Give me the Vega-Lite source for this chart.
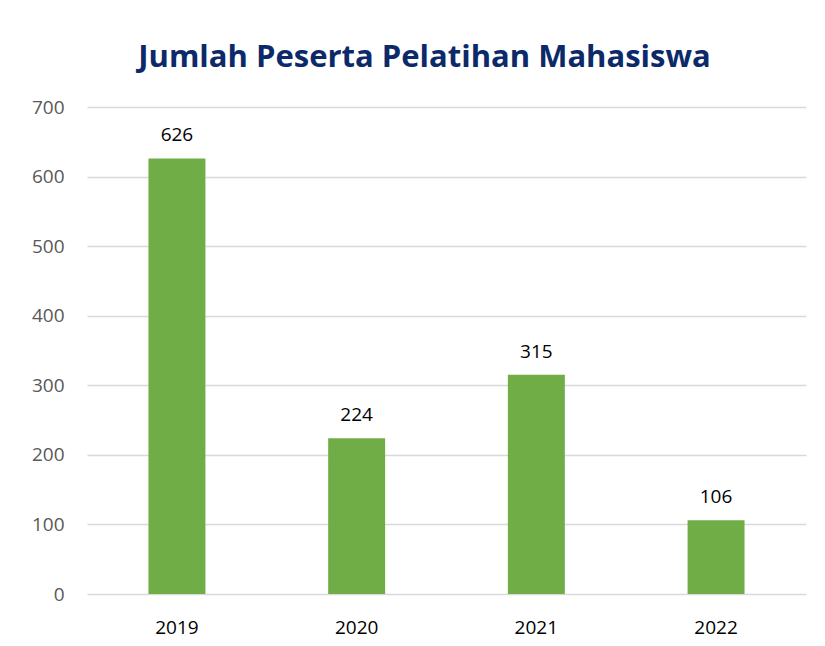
{
  "$schema": "https://vega.github.io/schema/vega-lite/v6.json",
  "width": 719,
  "height": 487,
  "autosize": {"type": "none"},
  "padding": {"left": 87, "top": 107, "right": 19, "bottom": 52},
  "background": "white",
  "title": {
    "text": "Jumlah Peserta Pelatihan Mahasiswa",
    "font": "Open Sans",
    "fontSize": 31,
    "fontWeight": "bold",
    "color": "#0C2A6A",
    "anchor": "middle",
    "dx": -22,
    "offset": 24
  },
  "data": {
    "values": [
      {"tahun": "2019", "jumlah": 626},
      {"tahun": "2020", "jumlah": 224},
      {"tahun": "2021", "jumlah": 315},
      {"tahun": "2022", "jumlah": 106}
    ]
  },
  "config": {
    "view": {"stroke": null},
    "font": "Open Sans"
  },
  "encoding": {
    "x": {
      "field": "tahun",
      "type": "nominal",
      "sort": null,
      "scale": {"paddingInner": 0.683, "paddingOuter": 0.342},
      "axis": {
        "title": null,
        "labelAngle": 0,
        "labelFontSize": 19,
        "labelColor": "#000000",
        "labelPadding": 24,
        "ticks": false,
        "domain": false,
        "grid": false
      }
    },
    "y": {
      "field": "jumlah",
      "type": "quantitative",
      "scale": {"domain": [0, 700]},
      "axis": {
        "title": null,
        "values": [0, 100, 200, 300, 400, 500, 600, 700],
        "labelFontSize": 19,
        "labelColor": "#595959",
        "labelPadding": 23,
        "ticks": false,
        "domain": false,
        "gridColor": "#D9D9D9",
        "gridWidth": 1.5
      }
    }
  },
  "layer": [
    {"mark": {"type": "bar", "color": "#70AD47"}},
    {
      "mark": {"type": "text", "baseline": "bottom", "dy": -13, "fontSize": 19, "color": "#000000"},
      "encoding": {"text": {"field": "jumlah", "type": "quantitative"}}
    }
  ]
}
